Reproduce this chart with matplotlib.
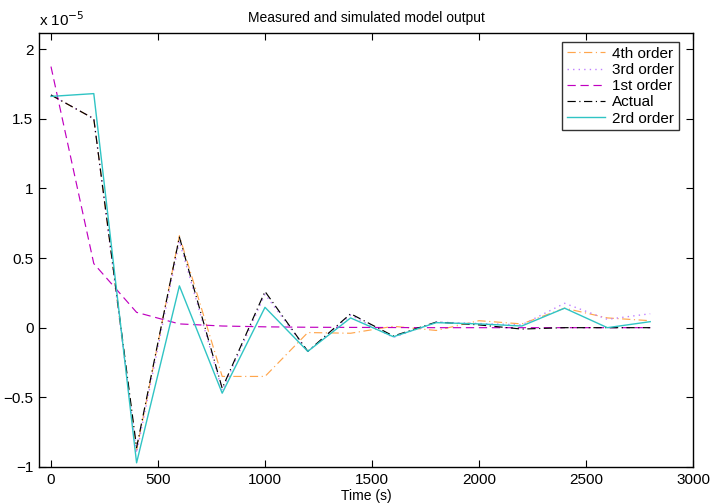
import numpy as np
import matplotlib
matplotlib.use("Agg")
import matplotlib.pyplot as plt
from matplotlib.ticker import FuncFormatter

t = [0, 200, 400, 600, 800, 1000, 1200, 1400, 1600, 1800, 2000, 2200, 2400, 2600, 2800]
scale = 1e-5
fourth = [1.67, 1.50, -0.88, 0.66, -0.35, -0.35, -0.035, -0.04, 0.01, -0.02, 0.05, 0.027, 0.14, 0.07, 0.05]
third = [1.67, 1.50, -0.90, 0.62, -0.45, 0.24, -0.17, 0.09, -0.07, 0.04, 0.03, 0.02, 0.175, 0.06, 0.10]
first = [1.874, 0.46, 0.11, 0.027, 0.012, 0.006, 0.003, 0.002, 0.001, 0.0, 0.0, 0.0, 0.0, 0.0, 0.0]
actual = [1.67, 1.50, -0.86, 0.65, -0.435, 0.26, -0.17, 0.10, -0.06, 0.04, 0.02, -0.01, 0.0, 0.0, 0.0]
second = [1.66, 1.68, -0.97, 0.30, -0.47, 0.146, -0.17, 0.07, -0.065, 0.036, 0.027, 0.012, 0.14, 0.0, 0.043]

plt.rcParams['font.family'] = ['Liberation Sans', 'DejaVu Sans']
fig = plt.figure(figsize=(7.1, 5.03), dpi=100)
ax = fig.add_axes([39/710, 1 - 467/503, (693-39)/710, (467-33)/503])

def s(v):
    return np.array(v) * scale

ax.plot(t, s(fourth), color='#FFA64D', ls=(0, (7, 3, 1, 3)), lw=0.85, label='4th order')
ax.plot(t, s(third), color='#C080FF', ls=(0, (1, 3)), lw=1.0, label='3rd order')
ax.plot(t, s(first), color='#C000C0', ls=(0, (7, 4)), lw=0.85, label='1st order')
ax.plot(t, s(actual), color='black', ls=(0, (7, 3, 1, 3)), lw=0.85, label='Actual')
ax.plot(t, s(second), color='#30C4C4', ls='-', lw=1.0, label='2rd order')

ax.set_xlim(-56, 3000)
ax.set_ylim(-1e-5, 2.115e-5)
ax.set_xticks([0, 500, 1000, 1500, 2000, 2500, 3000])
ax.set_yticks(np.array([-1, -0.5, 0, 0.5, 1, 1.5, 2]) * scale)

def yfmt(v, pos):
    x = v / scale
    if abs(x - round(x)) < 1e-9:
        return '%d' % round(x) if round(x) >= 0 else '\u2212%d' % abs(round(x))
    return ('%g' % x).replace('-', '\u2212')

ax.yaxis.set_major_formatter(FuncFormatter(yfmt))
ax.tick_params(direction='in', top=True, right=True, labelsize=11, length=5, width=0.8, pad=4)
for sp in ax.spines.values():
    sp.set_linewidth(1.0)

fig.text(39/710, 1 - 20/503, 'x 10$^{-5}$', fontsize=11, ha='left', va='center')
ax.set_title('Measured and simulated model output', fontsize=10, pad=8)
ax.set_xlabel('Time (s)', fontsize=10, labelpad=2)

leg = ax.legend(loc='upper right', bbox_to_anchor=((679-39)/654, (467-42)/434),
                fontsize=11, frameon=True, fancybox=False,
                edgecolor='black', borderpad=0.3, labelspacing=0.15, handlelength=2.5,
                handletextpad=0.5, borderaxespad=0.0)
leg.get_frame().set_linewidth(1.0)

fig.savefig('out.png', dpi=100)
